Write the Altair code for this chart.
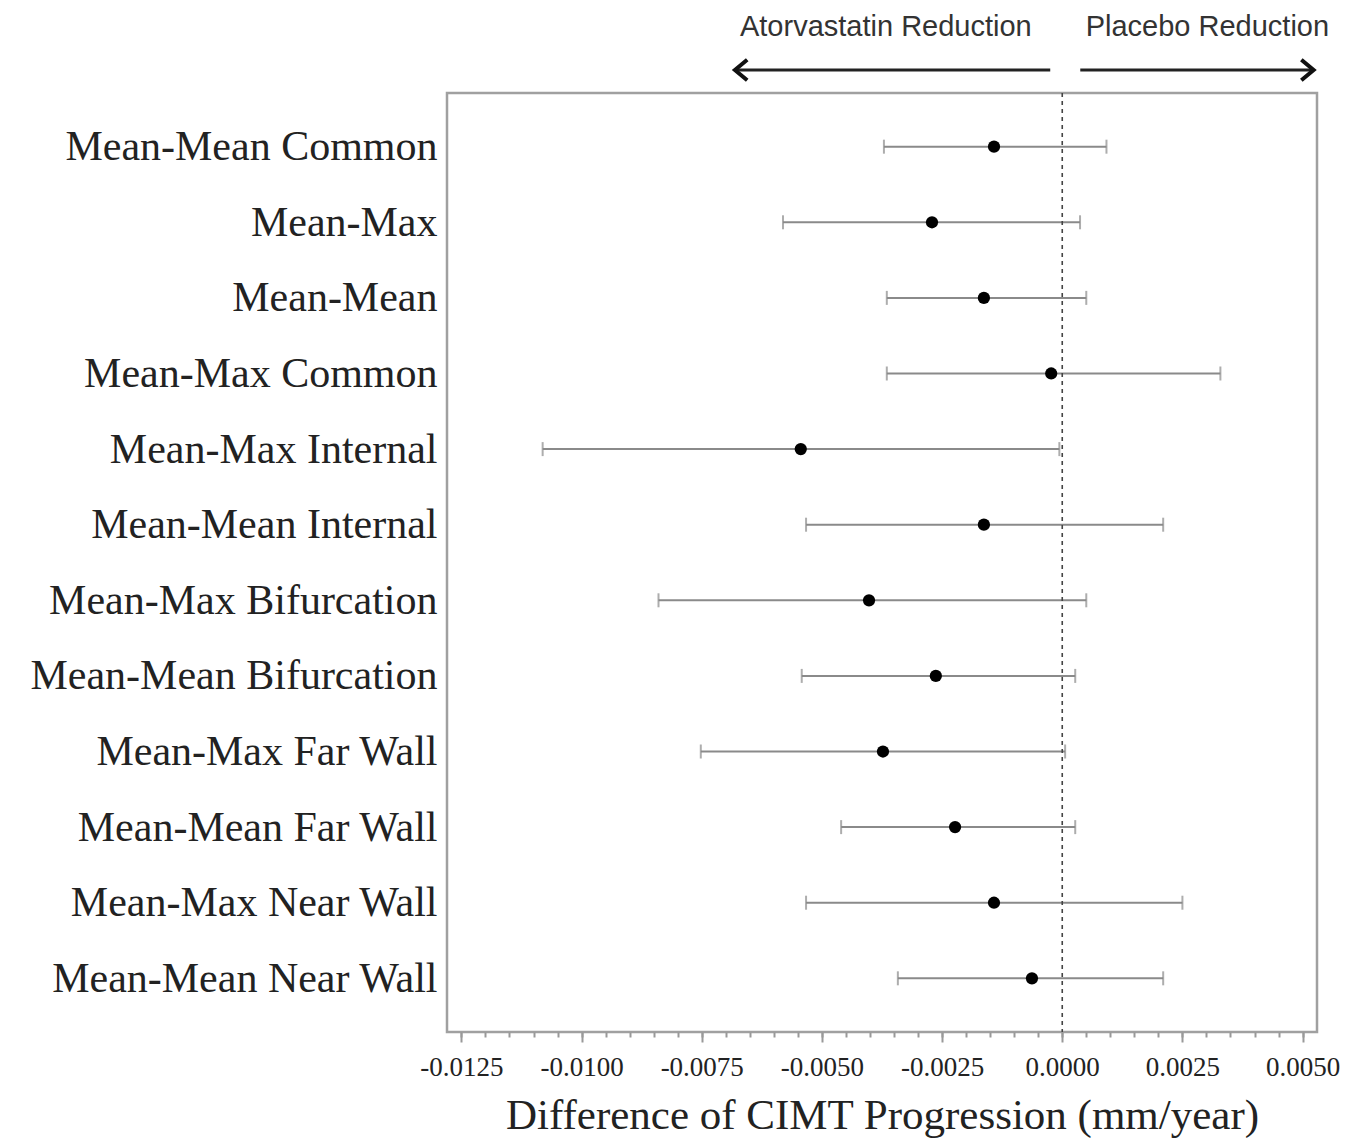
import altair as alt
import pandas as pd

outcomes = [
    "Mean-Mean Common", "Mean-Max", "Mean-Mean", "Mean-Max Common",
    "Mean-Max Internal", "Mean-Mean Internal", "Mean-Max Bifurcation",
    "Mean-Mean Bifurcation", "Mean-Max Far Wall", "Mean-Mean Far Wall",
    "Mean-Max Near Wall", "Mean-Mean Near Wall",
]
estimate = [-0.00142, -0.00271, -0.00163, -0.00023, -0.00544, -0.00163,
            -0.00402, -0.00263, -0.00373, -0.00223, -0.00142, -0.00063]
ci_low = [-0.00371, -0.00581, -0.00365, -0.00365, -0.01081, -0.00533,
          -0.00840, -0.00542, -0.00752, -0.00460, -0.00533, -0.00342]
ci_high = [0.00092, 0.00037, 0.00050, 0.00329, -0.00006, 0.00210,
           0.00050, 0.00027, 0.00006, 0.00027, 0.00250, 0.00210]

major_ticks = [-0.0125, -0.01, -0.0075, -0.005, -0.0025, 0.0, 0.0025, 0.005]
minor_ticks = [round(-0.0125 + 0.0005 * i, 4) for i in range(36)]

ann_text = ["Atorvastatin Reduction", "Placebo Reduction"]
ann_text_x = [-0.00367, 0.00302]
arrow_start = [-0.00025, 0.000375]
arrow_end = [-0.00681, 0.00523]
arrow_shape = ["M1.2,-1L0,0L1.2,1", "M-1.2,-1L0,0L-1.2,1"]

df = pd.DataFrame({"outcome": outcomes, "est": estimate, "lo": ci_low, "hi": ci_high})
ann = pd.DataFrame({"text": ann_text, "tx": ann_text_x, "x0": arrow_start,
                    "x1": arrow_end, "shape": arrow_shape})

xscale = alt.Scale(domain=[-0.0128, 0.0053], nice=False, zero=False)
yscale = alt.Scale(type="point", padding=0.71)
label_expr = "datum.value < 0 ? '-' + format(-datum.value, '.4f') : format(datum.value, '.4f')"

xaxis = alt.Axis(values=major_ticks, labelExpr=label_expr, title="Difference of CIMT Progression (mm/year)",
                 titleFont="Liberation Serif", titleFontSize=43, titleFontWeight="normal",
                 titleColor="#222", titlePadding=14,
                 labelFont="Liberation Serif", labelFontSize=27, labelColor="#222",
                 labelPadding=12, tickSize=10, tickColor="#999", tickWidth=2,
                 domain=False, grid=False, labelFlush=False)
yaxis = alt.Axis(title=None, labelFont="Liberation Serif", labelFontSize=42, labelColor="#222",
                 labelPadding=10, ticks=False, domain=False, grid=False, labelLimit=500)

Y = alt.Y("outcome:N", sort=outcomes, scale=yscale, axis=yaxis)

rules = alt.Chart(df).mark_rule(color="#8a8a8a", strokeWidth=2).encode(
    x=alt.X("lo:Q", scale=xscale, axis=xaxis), x2="hi:Q", y=Y)
cap_lo = alt.Chart(df).mark_tick(color="#8a8a8a", thickness=2, size=14).encode(
    x=alt.X("lo:Q", scale=xscale), y=Y)
cap_hi = alt.Chart(df).mark_tick(color="#8a8a8a", thickness=2, size=14).encode(
    x=alt.X("hi:Q", scale=xscale), y=Y)
zero = alt.Chart(pd.DataFrame({"z": [0.0]})).mark_rule(
    color="#444", strokeWidth=1.6, strokeDash=[4, 4]).encode(x=alt.X("z:Q", scale=xscale))
points = alt.Chart(df).mark_circle(color="black", size=150, opacity=1).encode(
    x=alt.X("est:Q", scale=xscale), y=Y)

minor = alt.Chart(pd.DataFrame({"m": minor_ticks})).mark_tick(opacity=0).encode(
    x=alt.X("m:Q", scale=xscale,
            axis=alt.Axis(values=minor_ticks, labels=False, title=None, tickSize=5,
                          tickColor="#999", tickWidth=2, domain=False, grid=False, orient="bottom")))

arrows = alt.Chart(ann).mark_rule(color="#222", strokeWidth=3).encode(
    x=alt.X("x0:Q", scale=xscale), x2="x1:Q", y=alt.value(-23))
heads = alt.Chart(ann).mark_point(filled=False, color="#111", strokeWidth=4, size=420, opacity=1).encode(
    x=alt.X("x1:Q", scale=xscale), y=alt.value(-23), shape=alt.Shape("shape:N", scale=None))
texts = alt.Chart(ann).mark_text(font="Liberation Sans", fontSize=29, color="#333",
                                 baseline="middle", align="center").encode(
    x=alt.X("tx:Q", scale=xscale), y=alt.value(-66), text="text:N")

main = alt.layer(rules, cap_lo, cap_hi, zero, points, arrows, heads, texts)
chart = alt.layer(main, minor).resolve_axis(x="independent").properties(
    width=870, height=939,
    background="white",
    autosize=alt.AutoSizeParams(type="none"),
    padding={"left": 439, "top": 85, "right": 30, "bottom": 110},
).configure_view(stroke="#a0a0a0", strokeWidth=2.5)

chart.save("out.html", embed_options={"renderer": "svg", "actions": False})
